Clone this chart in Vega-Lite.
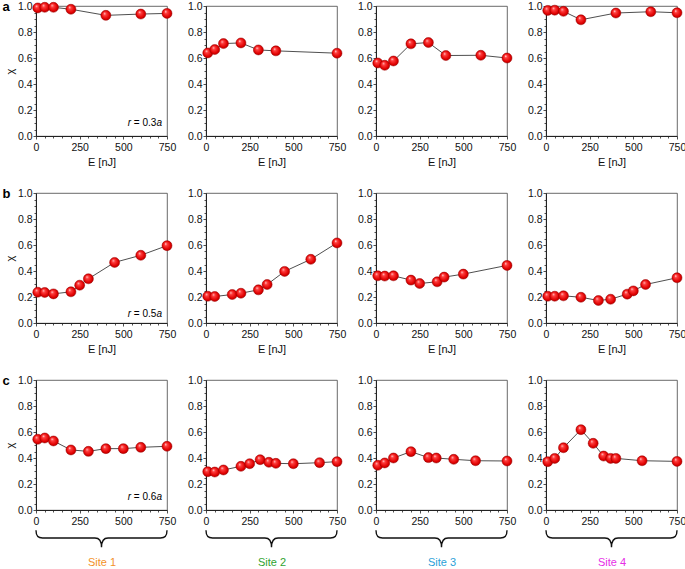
{
  "$schema": "https://vega.github.io/schema/vega-lite/v6.json",
  "padding": {"left": 2, "top": 0, "right": 0, "bottom": 0},
  "background": "white",
  "config": {
    "font": "Liberation Sans",
    "view": {"stroke": "#444", "strokeWidth": 0.8},
    "axis": {"domainColor": "#222", "domainWidth": 1, "tickColor": "#222", "tickWidth": 0.8, "labelFontSize": 10.5, "labelColor": "#111", "titleFontSize": 11, "titleFontWeight": "normal", "titleColor": "#111", "grid": false, "labelFlush": false, "labelOverlap": false, "labelPadding": 1},
    "title": {"fontSize": 13, "fontWeight": "bold", "anchor": "start", "frame": "bounds", "color": "#000"}
  },
  "datasets": {
    "d": [
      {"row": "a", "site": 1, "E": 10, "chi": 0.985}, {"row": "a", "site": 1, "E": 50, "chi": 0.99}, {"row": "a", "site": 1, "E": 100, "chi": 0.99}, {"row": "a", "site": 1, "E": 200, "chi": 0.975}, {"row": "a", "site": 1, "E": 400, "chi": 0.928}, {"row": "a", "site": 1, "E": 600, "chi": 0.938}, {"row": "a", "site": 1, "E": 750, "chi": 0.943},
      {"row": "a", "site": 2, "E": 10, "chi": 0.639}, {"row": "a", "site": 2, "E": 50, "chi": 0.665}, {"row": "a", "site": 2, "E": 100, "chi": 0.711}, {"row": "a", "site": 2, "E": 200, "chi": 0.716}, {"row": "a", "site": 2, "E": 300, "chi": 0.662}, {"row": "a", "site": 2, "E": 400, "chi": 0.655}, {"row": "a", "site": 2, "E": 750, "chi": 0.637},
      {"row": "a", "site": 3, "E": 10, "chi": 0.562}, {"row": "a", "site": 3, "E": 50, "chi": 0.544}, {"row": "a", "site": 3, "E": 100, "chi": 0.577}, {"row": "a", "site": 3, "E": 200, "chi": 0.709}, {"row": "a", "site": 3, "E": 300, "chi": 0.719}, {"row": "a", "site": 3, "E": 400, "chi": 0.619}, {"row": "a", "site": 3, "E": 600, "chi": 0.621}, {"row": "a", "site": 3, "E": 750, "chi": 0.6},
      {"row": "a", "site": 4, "E": 10, "chi": 0.966}, {"row": "a", "site": 4, "E": 50, "chi": 0.968}, {"row": "a", "site": 4, "E": 100, "chi": 0.959}, {"row": "a", "site": 4, "E": 200, "chi": 0.894}, {"row": "a", "site": 4, "E": 400, "chi": 0.946}, {"row": "a", "site": 4, "E": 600, "chi": 0.956}, {"row": "a", "site": 4, "E": 750, "chi": 0.948},
      {"row": "b", "site": 1, "E": 10, "chi": 0.237}, {"row": "b", "site": 1, "E": 50, "chi": 0.235}, {"row": "b", "site": 1, "E": 100, "chi": 0.224}, {"row": "b", "site": 1, "E": 200, "chi": 0.24}, {"row": "b", "site": 1, "E": 250, "chi": 0.291}, {"row": "b", "site": 1, "E": 300, "chi": 0.34}, {"row": "b", "site": 1, "E": 450, "chi": 0.466}, {"row": "b", "site": 1, "E": 600, "chi": 0.521}, {"row": "b", "site": 1, "E": 750, "chi": 0.595},
      {"row": "b", "site": 2, "E": 10, "chi": 0.206}, {"row": "b", "site": 2, "E": 50, "chi": 0.204}, {"row": "b", "site": 2, "E": 150, "chi": 0.219}, {"row": "b", "site": 2, "E": 200, "chi": 0.229}, {"row": "b", "site": 2, "E": 300, "chi": 0.255}, {"row": "b", "site": 2, "E": 350, "chi": 0.296}, {"row": "b", "site": 2, "E": 450, "chi": 0.397}, {"row": "b", "site": 2, "E": 600, "chi": 0.49}, {"row": "b", "site": 2, "E": 750, "chi": 0.616},
      {"row": "b", "site": 3, "E": 10, "chi": 0.363}, {"row": "b", "site": 3, "E": 50, "chi": 0.361}, {"row": "b", "site": 3, "E": 100, "chi": 0.363}, {"row": "b", "site": 3, "E": 200, "chi": 0.33}, {"row": "b", "site": 3, "E": 250, "chi": 0.304}, {"row": "b", "site": 3, "E": 350, "chi": 0.317}, {"row": "b", "site": 3, "E": 390, "chi": 0.353}, {"row": "b", "site": 3, "E": 500, "chi": 0.376}, {"row": "b", "site": 3, "E": 750, "chi": 0.443},
      {"row": "b", "site": 4, "E": 10, "chi": 0.206}, {"row": "b", "site": 4, "E": 50, "chi": 0.206}, {"row": "b", "site": 4, "E": 100, "chi": 0.209}, {"row": "b", "site": 4, "E": 200, "chi": 0.198}, {"row": "b", "site": 4, "E": 300, "chi": 0.173}, {"row": "b", "site": 4, "E": 370, "chi": 0.183}, {"row": "b", "site": 4, "E": 465, "chi": 0.222}, {"row": "b", "site": 4, "E": 500, "chi": 0.247}, {"row": "b", "site": 4, "E": 570, "chi": 0.296}, {"row": "b", "site": 4, "E": 750, "chi": 0.348},
      {"row": "c", "site": 1, "E": 10, "chi": 0.544}, {"row": "c", "site": 1, "E": 50, "chi": 0.554}, {"row": "c", "site": 1, "E": 100, "chi": 0.531}, {"row": "c", "site": 1, "E": 200, "chi": 0.462}, {"row": "c", "site": 1, "E": 300, "chi": 0.451}, {"row": "c", "site": 1, "E": 400, "chi": 0.472}, {"row": "c", "site": 1, "E": 500, "chi": 0.472}, {"row": "c", "site": 1, "E": 600, "chi": 0.482}, {"row": "c", "site": 1, "E": 750, "chi": 0.49},
      {"row": "c", "site": 2, "E": 10, "chi": 0.295}, {"row": "c", "site": 2, "E": 50, "chi": 0.292}, {"row": "c", "site": 2, "E": 100, "chi": 0.308}, {"row": "c", "site": 2, "E": 200, "chi": 0.336}, {"row": "c", "site": 2, "E": 250, "chi": 0.356}, {"row": "c", "site": 2, "E": 310, "chi": 0.387}, {"row": "c", "site": 2, "E": 360, "chi": 0.367}, {"row": "c", "site": 2, "E": 400, "chi": 0.359}, {"row": "c", "site": 2, "E": 500, "chi": 0.356}, {"row": "c", "site": 2, "E": 650, "chi": 0.364}, {"row": "c", "site": 2, "E": 750, "chi": 0.372},
      {"row": "c", "site": 3, "E": 10, "chi": 0.344}, {"row": "c", "site": 3, "E": 50, "chi": 0.362}, {"row": "c", "site": 3, "E": 100, "chi": 0.4}, {"row": "c", "site": 3, "E": 200, "chi": 0.449}, {"row": "c", "site": 3, "E": 300, "chi": 0.403}, {"row": "c", "site": 3, "E": 345, "chi": 0.4}, {"row": "c", "site": 3, "E": 445, "chi": 0.39}, {"row": "c", "site": 3, "E": 570, "chi": 0.379}, {"row": "c", "site": 3, "E": 750, "chi": 0.377},
      {"row": "c", "site": 4, "E": 10, "chi": 0.372}, {"row": "c", "site": 4, "E": 50, "chi": 0.397}, {"row": "c", "site": 4, "E": 100, "chi": 0.479}, {"row": "c", "site": 4, "E": 200, "chi": 0.618}, {"row": "c", "site": 4, "E": 270, "chi": 0.513}, {"row": "c", "site": 4, "E": 330, "chi": 0.415}, {"row": "c", "site": 4, "E": 370, "chi": 0.397}, {"row": "c", "site": 4, "E": 400, "chi": 0.397}, {"row": "c", "site": 4, "E": 550, "chi": 0.379}, {"row": "c", "site": 4, "E": 750, "chi": 0.374}
    ]
  },
  "data": {"name": "d"},
  "columns": 4,
  "spacing": {"row": 57, "column": 39},
  "bounds": "flush",
  "concat": [
    {
      "width": 131, "height": 130,
      "title": {"text": "a", "offset": -13, "dx": -2},
      "transform": [{"filter": "datum.row == 'a' && datum.site == 1"}],
      "encoding": {
        "x": {"type": "quantitative", "scale": {"domain": [0, 750], "nice": false}, "axis": {"values": [0,50,100,150,200,250,300,350,400,450,500,550,600,650,700,750], "labelExpr": "datum.value % 250 == 0 ? datum.label : ''", "tickSize": {"condition": {"test": "datum.value % 250 == 0", "value": 3}, "value": 2}, "labelPadding": 3, "title": "E [nJ]", "titlePadding": 4}},
        "y": {"type": "quantitative", "scale": {"domain": [0, 1], "nice": false}, "axis": {"values": [0,0.05,0.1,0.15,0.2,0.25,0.3,0.35,0.4,0.45,0.5,0.55,0.6,0.65,0.7,0.75,0.8,0.85,0.9,0.95,1], "labelExpr": "round(datum.value*100) % 20 == 0 ? format(datum.value, '.1f') : ''", "tickSize": {"condition": {"test": "round(datum.value*100) % 20 == 0", "value": 3}, "value": 2}, "title": "χ", "titlePadding": 2}}
      },
      "layer": [
        {"mark": {"type": "line", "color": "#222", "strokeWidth": 0.8}, "encoding": {"x": {"field": "E"}, "y": {"field": "chi"}}},
        {"mark": {"type": "point", "shape": "circle", "filled": true, "size": 100, "opacity": 1, "fill": {"gradient": "radial", "x1": 0.35, "y1": 0.3, "r1": 0, "x2": 0.5, "y2": 0.5, "r2": 0.55, "stops": [{"offset": 0, "color": "#ffe8e8"}, {"offset": 0.25, "color": "#ff4040"}, {"offset": 0.75, "color": "#e00000"}, {"offset": 1, "color": "#a80000"}]}, "stroke": "#9a0000", "strokeWidth": 0.5}, "encoding": {"x": {"field": "E"}, "y": {"field": "chi"}}},
        {"transform": [{"aggregate": [{"op": "count", "as": "n"}]}], "layer": [
          {"mark": {"type": "text", "align": "right", "baseline": "alphabetic", "fontSize": 10, "fontStyle": "italic", "dx": -5}, "encoding": {"x": {"datum": 750}, "y": {"datum": 0.075}, "text": {"value": "a"}}},
          {"mark": {"type": "text", "align": "right", "baseline": "alphabetic", "fontSize": 10, "dx": -10.6}, "encoding": {"x": {"datum": 750}, "y": {"datum": 0.075}, "text": {"value": "= 0.3"}}},
          {"mark": {"type": "text", "align": "right", "baseline": "alphabetic", "fontSize": 10, "fontStyle": "italic", "dx": -36}, "encoding": {"x": {"datum": 750}, "y": {"datum": 0.075}, "text": {"value": "r"}}}
        ]}
      ]
    },
    {
      "width": 131, "height": 130,
      "transform": [{"filter": "datum.row == 'a' && datum.site == 2"}],
      "encoding": {
        "x": {"type": "quantitative", "scale": {"domain": [0, 750], "nice": false}, "axis": {"values": [0,50,100,150,200,250,300,350,400,450,500,550,600,650,700,750], "labelExpr": "datum.value % 250 == 0 ? datum.label : ''", "tickSize": {"condition": {"test": "datum.value % 250 == 0", "value": 3}, "value": 2}, "labelPadding": 3, "title": "E [nJ]", "titlePadding": 4}},
        "y": {"type": "quantitative", "scale": {"domain": [0, 1], "nice": false}, "axis": {"values": [0,0.05,0.1,0.15,0.2,0.25,0.3,0.35,0.4,0.45,0.5,0.55,0.6,0.65,0.7,0.75,0.8,0.85,0.9,0.95,1], "labelExpr": "round(datum.value*100) % 20 == 0 ? format(datum.value, '.1f') : ''", "tickSize": {"condition": {"test": "round(datum.value*100) % 20 == 0", "value": 3}, "value": 2}, "title": null}}
      },
      "layer": [
        {"mark": {"type": "line", "color": "#222", "strokeWidth": 0.8}, "encoding": {"x": {"field": "E"}, "y": {"field": "chi"}}},
        {"mark": {"type": "point", "shape": "circle", "filled": true, "size": 100, "opacity": 1, "fill": {"gradient": "radial", "x1": 0.35, "y1": 0.3, "r1": 0, "x2": 0.5, "y2": 0.5, "r2": 0.55, "stops": [{"offset": 0, "color": "#ffe8e8"}, {"offset": 0.25, "color": "#ff4040"}, {"offset": 0.75, "color": "#e00000"}, {"offset": 1, "color": "#a80000"}]}, "stroke": "#9a0000", "strokeWidth": 0.5}, "encoding": {"x": {"field": "E"}, "y": {"field": "chi"}}}
      ]
    },
    {
      "width": 131, "height": 130,
      "transform": [{"filter": "datum.row == 'a' && datum.site == 3"}],
      "encoding": {
        "x": {"type": "quantitative", "scale": {"domain": [0, 750], "nice": false}, "axis": {"values": [0,50,100,150,200,250,300,350,400,450,500,550,600,650,700,750], "labelExpr": "datum.value % 250 == 0 ? datum.label : ''", "tickSize": {"condition": {"test": "datum.value % 250 == 0", "value": 3}, "value": 2}, "labelPadding": 3, "title": "E [nJ]", "titlePadding": 4}},
        "y": {"type": "quantitative", "scale": {"domain": [0, 1], "nice": false}, "axis": {"values": [0,0.05,0.1,0.15,0.2,0.25,0.3,0.35,0.4,0.45,0.5,0.55,0.6,0.65,0.7,0.75,0.8,0.85,0.9,0.95,1], "labelExpr": "round(datum.value*100) % 20 == 0 ? format(datum.value, '.1f') : ''", "tickSize": {"condition": {"test": "round(datum.value*100) % 20 == 0", "value": 3}, "value": 2}, "title": null}}
      },
      "layer": [
        {"mark": {"type": "line", "color": "#222", "strokeWidth": 0.8}, "encoding": {"x": {"field": "E"}, "y": {"field": "chi"}}},
        {"mark": {"type": "point", "shape": "circle", "filled": true, "size": 100, "opacity": 1, "fill": {"gradient": "radial", "x1": 0.35, "y1": 0.3, "r1": 0, "x2": 0.5, "y2": 0.5, "r2": 0.55, "stops": [{"offset": 0, "color": "#ffe8e8"}, {"offset": 0.25, "color": "#ff4040"}, {"offset": 0.75, "color": "#e00000"}, {"offset": 1, "color": "#a80000"}]}, "stroke": "#9a0000", "strokeWidth": 0.5}, "encoding": {"x": {"field": "E"}, "y": {"field": "chi"}}}
      ]
    },
    {
      "width": 131, "height": 130,
      "transform": [{"filter": "datum.row == 'a' && datum.site == 4"}],
      "encoding": {
        "x": {"type": "quantitative", "scale": {"domain": [0, 750], "nice": false}, "axis": {"values": [0,50,100,150,200,250,300,350,400,450,500,550,600,650,700,750], "labelExpr": "datum.value % 250 == 0 ? datum.label : ''", "tickSize": {"condition": {"test": "datum.value % 250 == 0", "value": 3}, "value": 2}, "labelPadding": 3, "title": "E [nJ]", "titlePadding": 4}},
        "y": {"type": "quantitative", "scale": {"domain": [0, 1], "nice": false}, "axis": {"values": [0,0.05,0.1,0.15,0.2,0.25,0.3,0.35,0.4,0.45,0.5,0.55,0.6,0.65,0.7,0.75,0.8,0.85,0.9,0.95,1], "labelExpr": "round(datum.value*100) % 20 == 0 ? format(datum.value, '.1f') : ''", "tickSize": {"condition": {"test": "round(datum.value*100) % 20 == 0", "value": 3}, "value": 2}, "title": null}}
      },
      "layer": [
        {"mark": {"type": "line", "color": "#222", "strokeWidth": 0.8}, "encoding": {"x": {"field": "E"}, "y": {"field": "chi"}}},
        {"mark": {"type": "point", "shape": "circle", "filled": true, "size": 100, "opacity": 1, "fill": {"gradient": "radial", "x1": 0.35, "y1": 0.3, "r1": 0, "x2": 0.5, "y2": 0.5, "r2": 0.55, "stops": [{"offset": 0, "color": "#ffe8e8"}, {"offset": 0.25, "color": "#ff4040"}, {"offset": 0.75, "color": "#e00000"}, {"offset": 1, "color": "#a80000"}]}, "stroke": "#9a0000", "strokeWidth": 0.5}, "encoding": {"x": {"field": "E"}, "y": {"field": "chi"}}}
      ]
    },
    {
      "width": 131, "height": 130,
      "title": {"text": "b", "offset": -13, "dx": -2},
      "transform": [{"filter": "datum.row == 'b' && datum.site == 1"}],
      "encoding": {
        "x": {"type": "quantitative", "scale": {"domain": [0, 750], "nice": false}, "axis": {"values": [0,50,100,150,200,250,300,350,400,450,500,550,600,650,700,750], "labelExpr": "datum.value % 250 == 0 ? datum.label : ''", "tickSize": {"condition": {"test": "datum.value % 250 == 0", "value": 3}, "value": 2}, "labelPadding": 3, "title": "E [nJ]", "titlePadding": 4}},
        "y": {"type": "quantitative", "scale": {"domain": [0, 1], "nice": false}, "axis": {"values": [0,0.05,0.1,0.15,0.2,0.25,0.3,0.35,0.4,0.45,0.5,0.55,0.6,0.65,0.7,0.75,0.8,0.85,0.9,0.95,1], "labelExpr": "round(datum.value*100) % 20 == 0 ? format(datum.value, '.1f') : ''", "tickSize": {"condition": {"test": "round(datum.value*100) % 20 == 0", "value": 3}, "value": 2}, "title": "χ", "titlePadding": 2}}
      },
      "layer": [
        {"mark": {"type": "line", "color": "#222", "strokeWidth": 0.8}, "encoding": {"x": {"field": "E"}, "y": {"field": "chi"}}},
        {"mark": {"type": "point", "shape": "circle", "filled": true, "size": 100, "opacity": 1, "fill": {"gradient": "radial", "x1": 0.35, "y1": 0.3, "r1": 0, "x2": 0.5, "y2": 0.5, "r2": 0.55, "stops": [{"offset": 0, "color": "#ffe8e8"}, {"offset": 0.25, "color": "#ff4040"}, {"offset": 0.75, "color": "#e00000"}, {"offset": 1, "color": "#a80000"}]}, "stroke": "#9a0000", "strokeWidth": 0.5}, "encoding": {"x": {"field": "E"}, "y": {"field": "chi"}}},
        {"transform": [{"aggregate": [{"op": "count", "as": "n"}]}], "layer": [
          {"mark": {"type": "text", "align": "right", "baseline": "alphabetic", "fontSize": 10, "fontStyle": "italic", "dx": -5}, "encoding": {"x": {"datum": 750}, "y": {"datum": 0.05}, "text": {"value": "a"}}},
          {"mark": {"type": "text", "align": "right", "baseline": "alphabetic", "fontSize": 10, "dx": -10.6}, "encoding": {"x": {"datum": 750}, "y": {"datum": 0.05}, "text": {"value": "= 0.5"}}},
          {"mark": {"type": "text", "align": "right", "baseline": "alphabetic", "fontSize": 10, "fontStyle": "italic", "dx": -36}, "encoding": {"x": {"datum": 750}, "y": {"datum": 0.05}, "text": {"value": "r"}}}
        ]}
      ]
    },
    {
      "width": 131, "height": 130,
      "transform": [{"filter": "datum.row == 'b' && datum.site == 2"}],
      "encoding": {
        "x": {"type": "quantitative", "scale": {"domain": [0, 750], "nice": false}, "axis": {"values": [0,50,100,150,200,250,300,350,400,450,500,550,600,650,700,750], "labelExpr": "datum.value % 250 == 0 ? datum.label : ''", "tickSize": {"condition": {"test": "datum.value % 250 == 0", "value": 3}, "value": 2}, "labelPadding": 3, "title": "E [nJ]", "titlePadding": 4}},
        "y": {"type": "quantitative", "scale": {"domain": [0, 1], "nice": false}, "axis": {"values": [0,0.05,0.1,0.15,0.2,0.25,0.3,0.35,0.4,0.45,0.5,0.55,0.6,0.65,0.7,0.75,0.8,0.85,0.9,0.95,1], "labelExpr": "round(datum.value*100) % 20 == 0 ? format(datum.value, '.1f') : ''", "tickSize": {"condition": {"test": "round(datum.value*100) % 20 == 0", "value": 3}, "value": 2}, "title": null}}
      },
      "layer": [
        {"mark": {"type": "line", "color": "#222", "strokeWidth": 0.8}, "encoding": {"x": {"field": "E"}, "y": {"field": "chi"}}},
        {"mark": {"type": "point", "shape": "circle", "filled": true, "size": 100, "opacity": 1, "fill": {"gradient": "radial", "x1": 0.35, "y1": 0.3, "r1": 0, "x2": 0.5, "y2": 0.5, "r2": 0.55, "stops": [{"offset": 0, "color": "#ffe8e8"}, {"offset": 0.25, "color": "#ff4040"}, {"offset": 0.75, "color": "#e00000"}, {"offset": 1, "color": "#a80000"}]}, "stroke": "#9a0000", "strokeWidth": 0.5}, "encoding": {"x": {"field": "E"}, "y": {"field": "chi"}}}
      ]
    },
    {
      "width": 131, "height": 130,
      "transform": [{"filter": "datum.row == 'b' && datum.site == 3"}],
      "encoding": {
        "x": {"type": "quantitative", "scale": {"domain": [0, 750], "nice": false}, "axis": {"values": [0,50,100,150,200,250,300,350,400,450,500,550,600,650,700,750], "labelExpr": "datum.value % 250 == 0 ? datum.label : ''", "tickSize": {"condition": {"test": "datum.value % 250 == 0", "value": 3}, "value": 2}, "labelPadding": 3, "title": "E [nJ]", "titlePadding": 4}},
        "y": {"type": "quantitative", "scale": {"domain": [0, 1], "nice": false}, "axis": {"values": [0,0.05,0.1,0.15,0.2,0.25,0.3,0.35,0.4,0.45,0.5,0.55,0.6,0.65,0.7,0.75,0.8,0.85,0.9,0.95,1], "labelExpr": "round(datum.value*100) % 20 == 0 ? format(datum.value, '.1f') : ''", "tickSize": {"condition": {"test": "round(datum.value*100) % 20 == 0", "value": 3}, "value": 2}, "title": null}}
      },
      "layer": [
        {"mark": {"type": "line", "color": "#222", "strokeWidth": 0.8}, "encoding": {"x": {"field": "E"}, "y": {"field": "chi"}}},
        {"mark": {"type": "point", "shape": "circle", "filled": true, "size": 100, "opacity": 1, "fill": {"gradient": "radial", "x1": 0.35, "y1": 0.3, "r1": 0, "x2": 0.5, "y2": 0.5, "r2": 0.55, "stops": [{"offset": 0, "color": "#ffe8e8"}, {"offset": 0.25, "color": "#ff4040"}, {"offset": 0.75, "color": "#e00000"}, {"offset": 1, "color": "#a80000"}]}, "stroke": "#9a0000", "strokeWidth": 0.5}, "encoding": {"x": {"field": "E"}, "y": {"field": "chi"}}}
      ]
    },
    {
      "width": 131, "height": 130,
      "transform": [{"filter": "datum.row == 'b' && datum.site == 4"}],
      "encoding": {
        "x": {"type": "quantitative", "scale": {"domain": [0, 750], "nice": false}, "axis": {"values": [0,50,100,150,200,250,300,350,400,450,500,550,600,650,700,750], "labelExpr": "datum.value % 250 == 0 ? datum.label : ''", "tickSize": {"condition": {"test": "datum.value % 250 == 0", "value": 3}, "value": 2}, "labelPadding": 3, "title": "E [nJ]", "titlePadding": 4}},
        "y": {"type": "quantitative", "scale": {"domain": [0, 1], "nice": false}, "axis": {"values": [0,0.05,0.1,0.15,0.2,0.25,0.3,0.35,0.4,0.45,0.5,0.55,0.6,0.65,0.7,0.75,0.8,0.85,0.9,0.95,1], "labelExpr": "round(datum.value*100) % 20 == 0 ? format(datum.value, '.1f') : ''", "tickSize": {"condition": {"test": "round(datum.value*100) % 20 == 0", "value": 3}, "value": 2}, "title": null}}
      },
      "layer": [
        {"mark": {"type": "line", "color": "#222", "strokeWidth": 0.8}, "encoding": {"x": {"field": "E"}, "y": {"field": "chi"}}},
        {"mark": {"type": "point", "shape": "circle", "filled": true, "size": 100, "opacity": 1, "fill": {"gradient": "radial", "x1": 0.35, "y1": 0.3, "r1": 0, "x2": 0.5, "y2": 0.5, "r2": 0.55, "stops": [{"offset": 0, "color": "#ffe8e8"}, {"offset": 0.25, "color": "#ff4040"}, {"offset": 0.75, "color": "#e00000"}, {"offset": 1, "color": "#a80000"}]}, "stroke": "#9a0000", "strokeWidth": 0.5}, "encoding": {"x": {"field": "E"}, "y": {"field": "chi"}}}
      ]
    },
    {
      "width": 131, "height": 130,
      "title": {"text": "c", "offset": -13, "dx": -2},
      "transform": [{"filter": "datum.row == 'c' && datum.site == 1"}],
      "encoding": {
        "x": {"type": "quantitative", "scale": {"domain": [0, 750], "nice": false}, "axis": {"values": [0,50,100,150,200,250,300,350,400,450,500,550,600,650,700,750], "labelExpr": "datum.value % 250 == 0 ? datum.label : ''", "tickSize": {"condition": {"test": "datum.value % 250 == 0", "value": 3}, "value": 2}, "labelPadding": 3, "title": "Site 1", "titleColor": "#f39128", "titlePadding": 30}},
        "y": {"type": "quantitative", "scale": {"domain": [0, 1], "nice": false}, "axis": {"values": [0,0.05,0.1,0.15,0.2,0.25,0.3,0.35,0.4,0.45,0.5,0.55,0.6,0.65,0.7,0.75,0.8,0.85,0.9,0.95,1], "labelExpr": "round(datum.value*100) % 20 == 0 ? format(datum.value, '.1f') : ''", "tickSize": {"condition": {"test": "round(datum.value*100) % 20 == 0", "value": 3}, "value": 2}, "title": "χ", "titlePadding": 2}}
      },
      "layer": [
        {"mark": {"type": "line", "color": "#222", "strokeWidth": 0.8}, "encoding": {"x": {"field": "E"}, "y": {"field": "chi"}}},
        {"mark": {"type": "point", "shape": "circle", "filled": true, "size": 100, "opacity": 1, "fill": {"gradient": "radial", "x1": 0.35, "y1": 0.3, "r1": 0, "x2": 0.5, "y2": 0.5, "r2": 0.55, "stops": [{"offset": 0, "color": "#ffe8e8"}, {"offset": 0.25, "color": "#ff4040"}, {"offset": 0.75, "color": "#e00000"}, {"offset": 1, "color": "#a80000"}]}, "stroke": "#9a0000", "strokeWidth": 0.5}, "encoding": {"x": {"field": "E"}, "y": {"field": "chi"}}},
        {"transform": [{"aggregate": [{"op": "count", "as": "n"}]}], "layer": [
          {"mark": {"type": "text", "align": "right", "baseline": "alphabetic", "fontSize": 10, "fontStyle": "italic", "dx": -5}, "encoding": {"x": {"datum": 750}, "y": {"datum": 0.075}, "text": {"value": "a"}}},
          {"mark": {"type": "text", "align": "right", "baseline": "alphabetic", "fontSize": 10, "dx": -10.6}, "encoding": {"x": {"datum": 750}, "y": {"datum": 0.075}, "text": {"value": "= 0.6"}}},
          {"mark": {"type": "text", "align": "right", "baseline": "alphabetic", "fontSize": 10, "fontStyle": "italic", "dx": -36}, "encoding": {"x": {"datum": 750}, "y": {"datum": 0.075}, "text": {"value": "r"}}},
          {"mark": {"type": "point", "shape": "M -1 -0.12 C -1 -0.03 -0.97 0 -0.9 0 L -0.1 0 C -0.03 0 0 0.06 0 0.14 C 0 0.06 0.03 0 0.1 0 L 0.9 0 C 0.97 0 1 -0.03 1 -0.12", "size": 17161, "filled": false, "stroke": "#111", "strokeWidth": 1.4, "opacity": 1, "yOffset": 28}, "encoding": {"x": {"datum": 375}, "y": {"datum": 0}}}
        ]}
      ]
    },
    {
      "width": 131, "height": 130,
      "transform": [{"filter": "datum.row == 'c' && datum.site == 2"}],
      "encoding": {
        "x": {"type": "quantitative", "scale": {"domain": [0, 750], "nice": false}, "axis": {"values": [0,50,100,150,200,250,300,350,400,450,500,550,600,650,700,750], "labelExpr": "datum.value % 250 == 0 ? datum.label : ''", "tickSize": {"condition": {"test": "datum.value % 250 == 0", "value": 3}, "value": 2}, "labelPadding": 3, "title": "Site 2", "titleColor": "#2fa32f", "titlePadding": 30}},
        "y": {"type": "quantitative", "scale": {"domain": [0, 1], "nice": false}, "axis": {"values": [0,0.05,0.1,0.15,0.2,0.25,0.3,0.35,0.4,0.45,0.5,0.55,0.6,0.65,0.7,0.75,0.8,0.85,0.9,0.95,1], "labelExpr": "round(datum.value*100) % 20 == 0 ? format(datum.value, '.1f') : ''", "tickSize": {"condition": {"test": "round(datum.value*100) % 20 == 0", "value": 3}, "value": 2}, "title": null}}
      },
      "layer": [
        {"mark": {"type": "line", "color": "#222", "strokeWidth": 0.8}, "encoding": {"x": {"field": "E"}, "y": {"field": "chi"}}},
        {"mark": {"type": "point", "shape": "circle", "filled": true, "size": 100, "opacity": 1, "fill": {"gradient": "radial", "x1": 0.35, "y1": 0.3, "r1": 0, "x2": 0.5, "y2": 0.5, "r2": 0.55, "stops": [{"offset": 0, "color": "#ffe8e8"}, {"offset": 0.25, "color": "#ff4040"}, {"offset": 0.75, "color": "#e00000"}, {"offset": 1, "color": "#a80000"}]}, "stroke": "#9a0000", "strokeWidth": 0.5}, "encoding": {"x": {"field": "E"}, "y": {"field": "chi"}}},
        {"transform": [{"aggregate": [{"op": "count", "as": "n"}]}], "mark": {"type": "point", "shape": "M -1 -0.12 C -1 -0.03 -0.97 0 -0.9 0 L -0.1 0 C -0.03 0 0 0.06 0 0.14 C 0 0.06 0.03 0 0.1 0 L 0.9 0 C 0.97 0 1 -0.03 1 -0.12", "size": 17161, "filled": false, "stroke": "#111", "strokeWidth": 1.4, "opacity": 1, "yOffset": 28}, "encoding": {"x": {"datum": 375}, "y": {"datum": 0}}}
      ]
    },
    {
      "width": 131, "height": 130,
      "transform": [{"filter": "datum.row == 'c' && datum.site == 3"}],
      "encoding": {
        "x": {"type": "quantitative", "scale": {"domain": [0, 750], "nice": false}, "axis": {"values": [0,50,100,150,200,250,300,350,400,450,500,550,600,650,700,750], "labelExpr": "datum.value % 250 == 0 ? datum.label : ''", "tickSize": {"condition": {"test": "datum.value % 250 == 0", "value": 3}, "value": 2}, "labelPadding": 3, "title": "Site 3", "titleColor": "#2a9fd8", "titlePadding": 30}},
        "y": {"type": "quantitative", "scale": {"domain": [0, 1], "nice": false}, "axis": {"values": [0,0.05,0.1,0.15,0.2,0.25,0.3,0.35,0.4,0.45,0.5,0.55,0.6,0.65,0.7,0.75,0.8,0.85,0.9,0.95,1], "labelExpr": "round(datum.value*100) % 20 == 0 ? format(datum.value, '.1f') : ''", "tickSize": {"condition": {"test": "round(datum.value*100) % 20 == 0", "value": 3}, "value": 2}, "title": null}}
      },
      "layer": [
        {"mark": {"type": "line", "color": "#222", "strokeWidth": 0.8}, "encoding": {"x": {"field": "E"}, "y": {"field": "chi"}}},
        {"mark": {"type": "point", "shape": "circle", "filled": true, "size": 100, "opacity": 1, "fill": {"gradient": "radial", "x1": 0.35, "y1": 0.3, "r1": 0, "x2": 0.5, "y2": 0.5, "r2": 0.55, "stops": [{"offset": 0, "color": "#ffe8e8"}, {"offset": 0.25, "color": "#ff4040"}, {"offset": 0.75, "color": "#e00000"}, {"offset": 1, "color": "#a80000"}]}, "stroke": "#9a0000", "strokeWidth": 0.5}, "encoding": {"x": {"field": "E"}, "y": {"field": "chi"}}},
        {"transform": [{"aggregate": [{"op": "count", "as": "n"}]}], "mark": {"type": "point", "shape": "M -1 -0.12 C -1 -0.03 -0.97 0 -0.9 0 L -0.1 0 C -0.03 0 0 0.06 0 0.14 C 0 0.06 0.03 0 0.1 0 L 0.9 0 C 0.97 0 1 -0.03 1 -0.12", "size": 17161, "filled": false, "stroke": "#111", "strokeWidth": 1.4, "opacity": 1, "yOffset": 28}, "encoding": {"x": {"datum": 375}, "y": {"datum": 0}}}
      ]
    },
    {
      "width": 131, "height": 130,
      "transform": [{"filter": "datum.row == 'c' && datum.site == 4"}],
      "encoding": {
        "x": {"type": "quantitative", "scale": {"domain": [0, 750], "nice": false}, "axis": {"values": [0,50,100,150,200,250,300,350,400,450,500,550,600,650,700,750], "labelExpr": "datum.value % 250 == 0 ? datum.label : ''", "tickSize": {"condition": {"test": "datum.value % 250 == 0", "value": 3}, "value": 2}, "labelPadding": 3, "title": "Site 4", "titleColor": "#e62ee6", "titlePadding": 30}},
        "y": {"type": "quantitative", "scale": {"domain": [0, 1], "nice": false}, "axis": {"values": [0,0.05,0.1,0.15,0.2,0.25,0.3,0.35,0.4,0.45,0.5,0.55,0.6,0.65,0.7,0.75,0.8,0.85,0.9,0.95,1], "labelExpr": "round(datum.value*100) % 20 == 0 ? format(datum.value, '.1f') : ''", "tickSize": {"condition": {"test": "round(datum.value*100) % 20 == 0", "value": 3}, "value": 2}, "title": null}}
      },
      "layer": [
        {"mark": {"type": "line", "color": "#222", "strokeWidth": 0.8}, "encoding": {"x": {"field": "E"}, "y": {"field": "chi"}}},
        {"mark": {"type": "point", "shape": "circle", "filled": true, "size": 100, "opacity": 1, "fill": {"gradient": "radial", "x1": 0.35, "y1": 0.3, "r1": 0, "x2": 0.5, "y2": 0.5, "r2": 0.55, "stops": [{"offset": 0, "color": "#ffe8e8"}, {"offset": 0.25, "color": "#ff4040"}, {"offset": 0.75, "color": "#e00000"}, {"offset": 1, "color": "#a80000"}]}, "stroke": "#9a0000", "strokeWidth": 0.5}, "encoding": {"x": {"field": "E"}, "y": {"field": "chi"}}},
        {"transform": [{"aggregate": [{"op": "count", "as": "n"}]}], "mark": {"type": "point", "shape": "M -1 -0.12 C -1 -0.03 -0.97 0 -0.9 0 L -0.1 0 C -0.03 0 0 0.06 0 0.14 C 0 0.06 0.03 0 0.1 0 L 0.9 0 C 0.97 0 1 -0.03 1 -0.12", "size": 17161, "filled": false, "stroke": "#111", "strokeWidth": 1.4, "opacity": 1, "yOffset": 28}, "encoding": {"x": {"datum": 375}, "y": {"datum": 0}}}
      ]
    }
  ]
}
